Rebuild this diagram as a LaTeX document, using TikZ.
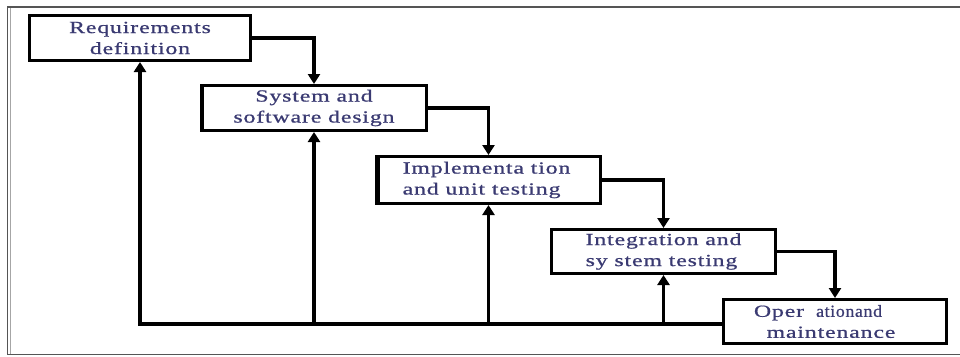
\documentclass[tikz,border=0pt]{standalone}
\usepackage{fontspec}
\usepackage{graphicx}
\usetikzlibrary{arrows.meta}
\newfontfamily\boxfont[FakeStretch=1.4,LetterSpace=5,FakeBold=0.8]{Liberation Serif}
\definecolor{txtcol}{HTML}{3A3A72}
\definecolor{framecol}{HTML}{555555}
\begin{document}
\begin{tikzpicture}[x=1pt,y=-1pt,
  stagebox/.style={draw=black, line width=3pt, fill=white, rectangle, inner sep=0pt,
    minimum width=#1, font=\boxfont\fontsize{17}{21}\selectfont, text=txtcol, align=center},
  stagebox/.default=224pt,
  flow/.style={line width=3.2pt, -{Triangle[width=12pt,length=10pt]}},
  fbline/.style={line width=3.4pt, -{Triangle[width=12pt,length=10pt]}}]
\useasboundingbox (0,0) rectangle (960,356);
% outer frame
\draw[framecol, line width=1.8pt] (960,7) -- (7.5,7) -- (7.5,354.5) -- (960,354.5);
\draw[gray!70, line width=0.8pt] (10,8) -- (10,354);
% stages
\node[stagebox=221pt, minimum height=45pt] (b1) at (140,38) {Requir\hspace{1pt}ements\\definition};
\node[stagebox=225pt, minimum height=45pt] (b2) at (314,108) {System and\\software design};
\node[stagebox=224pt, minimum height=47pt, align=left] (b3) at (488.5,180) {\hspace*{-4pt}Implementa tion\\\hspace*{-4pt}and unit testing};
\node[stagebox=224pt, minimum height=44pt] (b4) at (663.5,251.5) {Integration and\\sy stem testing\hspace*{4pt}};
\node[stagebox=223pt, minimum height=44pt] (b5) at (835,321.5)
  {Oper\hspace{12pt}\scalebox{0.75}[1]{ationand}\hspace*{34pt}\\maintenance\hspace*{8pt}};
% thicker sides
\draw[line width=3pt] ([xshift=2pt]b2.north west) -- ([xshift=2pt]b2.south west);
\draw[line width=4pt] ([xshift=3pt]b3.north west) -- ([xshift=3pt]b3.south west);
\draw[line width=2.5pt] ([xshift=-2pt]b3.north east) -- ([xshift=-2pt]b3.south east);
% forward flow
\draw[flow] (b1.east) -| (b2.north);
\draw[flow] (b2.east) -| (b3.north);
\draw[flow] (b3.east) -| (b4.north);
\draw[flow] (b4.east) -| (b5.north);
% feedback
\coordinate (f1) at (140,324);
\draw[fbline] (b5.west |- f1) -| (b1.south);
\draw[fbline] (b2.south |- f1) -- (b2.south);
\draw[fbline] (b3.south |- f1) -- (b3.south);
\draw[fbline] (b4.south |- f1) -- (b4.south);
\end{tikzpicture}
\end{document}
